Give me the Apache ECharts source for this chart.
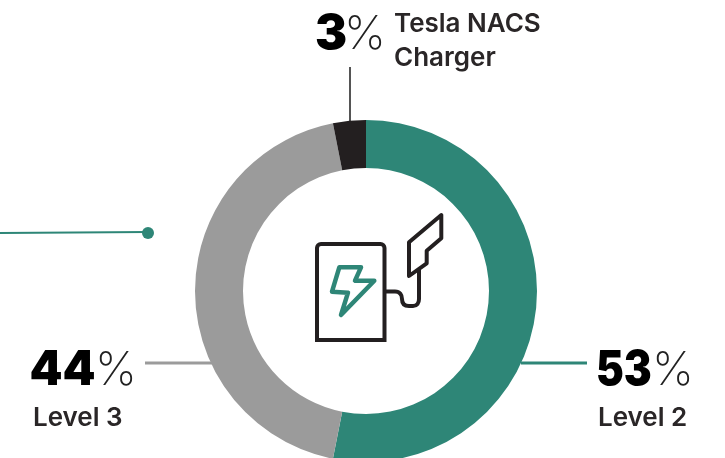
<!DOCTYPE html>
<html><head><meta charset="utf-8">
<style>html,body{margin:0;padding:0;background:#fff}#c{width:725px;height:458px}</style>
<script src="https://cdn.jsdelivr.net/npm/echarts@6/dist/echarts.min.js"></script>
</head><body><div id="c"></div>
<script>
const categories = ['Level 2', 'Level 3', 'Tesla NACS Charger'];
const values = [53.1, 43.8, 3.1];
const colors = ['#2e8677', '#9b9b9b', '#231f20'];
const FONT = 'Inter, "Open Sans", sans-serif';
const chart = echarts.init(document.getElementById('c'), null, {renderer:'canvas'});

function pct(i, x, y, px, sx) {
  return [
    {type:'text', x:x, y:y, scaleX:sx, silent:true, style:{
      text:String(Math.round(values[i])), fontFamily:FONT, fontSize:48, fontWeight:900, fill:'#000'}},
    {type:'text', x:px, y:y, silent:true, style:{
      text:'%', fontFamily:FONT, fontSize:47, fontWeight:200, fill:'#222'}}
  ];
}
function lab(text, x, y) {
  return {type:'text', x:x, y:y, silent:true, style:{
    text:text, fontFamily:FONT, fontSize:26, fontWeight:600, lineHeight:34, fill:'#2a2627'}};
}
function line(x1,y1,x2,y2,c,w){
  return {type:'line', silent:true, shape:{x1,y1,x2,y2}, style:{stroke:c,lineWidth:w}};
}
function bez(x1,y1,cpx1,cpy1,cpx2,cpy2,x2,y2){
  return {type:'bezierCurve',silent:true,shape:{x1,y1,cpx1,cpy1,cpx2,cpy2,x2,y2},style:{fill:'none',stroke:dark,lineWidth:4}};
}
const dark='#231f20';
const graphic = [
  line(0,233,148,232,colors[0],2),
  {type:'circle',silent:true,shape:{cx:148,cy:233,r:6},style:{fill:colors[0]}},
  line(350,67,350,122,'#555',2),
  line(145,363,212,363,colors[1],3),
  line(521,363,587,363,colors[0],3),
  ...pct(2,315,11,344,1), lab(categories[2].replace(' Charger','\nCharger'),394,7),
  ...pct(1,29.5,347,95,0.98), lab(categories[1],33,401),
  ...pct(0,596,347,652,0.87), lab(categories[0],598,401),
  {type:'rect',silent:true,shape:{x:317,y:244,width:67.5,height:96,r:[4,4,0,0]},style:{fill:'none',stroke:dark,lineWidth:4}},
  {type:'polygon',silent:true,shape:{points:[[339.3,267.3],[361,267.3],[355,280.7],[374.3,280.7],[341,315],[348,292.7],[332,291.7]]},style:{fill:'none',stroke:colors[0],lineWidth:4.5,lineJoin:'round'}},
  {type:'polygon',silent:true,shape:{points:[[409,242.3],[441.3,215],[441.3,238.3],[426.7,250.7],[426.7,263.3],[409,276]]},style:{fill:'none',stroke:dark,lineWidth:4,lineJoin:'round'}},
  line(386,291.5,395,291.5,dark,4),
  bez(395,291.5,400,291.5,402,295,402,299),
  bez(402,299,402,304,405,306,409,306),
  line(409,306,413,306,dark,4),
  bez(413,306,417,306,419,303,419,299),
  line(419,299,419,268,dark,4)
];
chart.setOption({
  animation:false,
  backgroundColor:'#fff',
  graphic:{elements:graphic},
  series:[{
    type:'pie', center:[366,291], radius:[123,171], startAngle:90, clockwise:true,
    label:{show:false}, labelLine:{show:false}, silent:true,
    data:categories.map((n,i)=>({name:n,value:values[i],itemStyle:{color:colors[i]}}))
  }]
});
</script></body></html>
